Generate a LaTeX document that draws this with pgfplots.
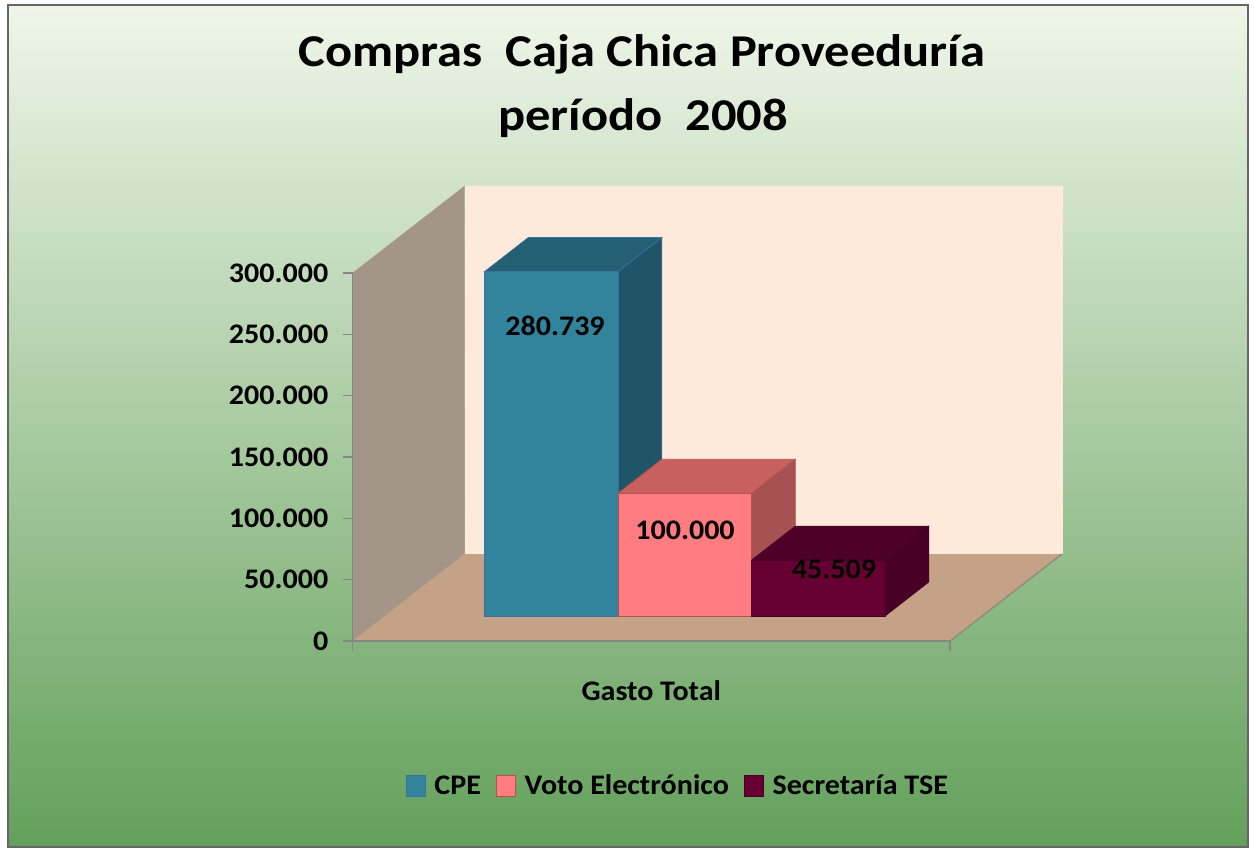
\documentclass[border=0pt]{standalone}
\usepackage{fontspec}
\setmainfont{Carlito}[FakeStretch=1.06]
\newfontfamily\titlefont{Carlito}[FakeStretch=1.11]
\usepackage{pgfplots}
\pgfplotsset{compat=1.18}
\definecolor{bgTop}{HTML}{EFF6E9}
\definecolor{bgMid}{HTML}{B3D199}
\definecolor{bgBot}{HTML}{63A05B}
\definecolor{leftwall}{HTML}{A39689}
\definecolor{backwall}{HTML}{FDEADB}
\definecolor{floorc}{HTML}{C4A286}
\definecolor{flooredge}{HTML}{8E8E80}
\definecolor{axisgray}{HTML}{868686}
\definecolor{cpeFront}{HTML}{31849B}
\definecolor{cpeTop}{HTML}{245F72}
\definecolor{cpeSide}{HTML}{1F5566}
\definecolor{cpeEdge}{HTML}{3E6FA3}
\definecolor{votoFront}{HTML}{FF7C80}
\definecolor{votoTop}{HTML}{C7605F}
\definecolor{votoSide}{HTML}{A65252}
\definecolor{votoEdge}{HTML}{B5514F}
\definecolor{secFront}{HTML}{660033}
\definecolor{secTop}{HTML}{4F0028}
\definecolor{secSide}{HTML}{490025}
\definecolor{secEdge}{HTML}{4A0026}
\newcommand{\lbl}{\bfseries\fontsize{17}{20}\selectfont}
\def\fdx{32.1}\def\fdy{20.4}\def\bdx{43.7}\def\bdy{27.7}
% #1 x0, #2 x1, #3 value, #4 front, #5 top, #6 side, #7 edge
\newcommand{\bartd}[7]{%
 \pgfmathsetmacro\XA{#1+\fdx}\pgfmathsetmacro\XB{#2+\fdx}%
 \pgfmathsetmacro\XC{#1+\fdx+\bdx}\pgfmathsetmacro\XD{#2+\fdx+\bdx}%
 \pgfmathsetmacro\YA{\fdy}\pgfmathsetmacro\YB{#3+\fdy}%
 \pgfmathsetmacro\YC{\fdy+\bdy}\pgfmathsetmacro\YD{#3+\fdy+\bdy}%
 \addplot[fill=#5, draw=#7, line width=0.4pt, forget plot] coordinates {(\XA,\YB) (\XB,\YB) (\XD,\YD) (\XC,\YD)} --cycle;
 \addplot[fill=#6, draw=#7, line width=0.4pt, forget plot] coordinates {(\XB,\YA) (\XD,\YC) (\XD,\YD) (\XB,\YB)} --cycle;
 \addplot[fill=#4, draw=#7, line width=0.5pt] coordinates {(\XA,\YA) (\XB,\YA) (\XB,\YB) (\XA,\YB)} --cycle;
}
\begin{document}
\begin{tikzpicture}
\fill[white] (0,0) rectangle (1254*0.6pt,-850*0.6pt);
\shade[top color=bgTop, middle color=bgMid, bottom color=bgBot] (8*0.6pt,-5*0.6pt) rectangle (1248*0.6pt,-847*0.6pt);
\draw[color=gray!80!black, line width=1.2pt] (8*0.6pt,-5*0.6pt) rectangle (1248*0.6pt,-847*0.6pt);
\node[font=\titlefont\bfseries\fontsize{27.3}{32}\selectfont, anchor=base] at (642*0.6pt,-66*0.6pt) {Compras\ \ Caja Chica Proveeduría};
\node[font=\titlefont\bfseries\fontsize{27.3}{32}\selectfont, anchor=base] at (643*0.6pt,-130*0.6pt) {período\ \ 2008};
\begin{axis}[
 at={(352.5*0.6pt,-641*0.6pt)}, anchor=origin,
 x=0.6pt, y=0.7362pt,
 xmin=0, xmax=597.5, ymin=0, ymax=300,
 clip=false, axis on top,
 axis lines=left, axis line style={-, color=axisgray, line width=0.9pt},
 tick align=outside, major tick length=6pt,
 tick style={color=axisgray, line width=0.9pt},
 xtick={0,597.5}, xticklabels={},
 ytick={0,50,100,150,200,250,300},
 yticklabels={0,50.000,100.000,150.000,200.000,250.000,300.000},
 yticklabel style={font=\lbl, anchor=east, xshift=-5pt},
 legend columns=-1,
 legend style={at={(axis cs:326,-118.2)}, anchor=center, draw=none, fill=none,
   font=\lbl, /tikz/every even column/.append style={column sep=7pt}},
 legend image code/.code={\draw[#1] (0pt,-6.3pt) rectangle (11.4pt,6.3pt); \path[draw=none,fill=none] (0pt,0pt) -- (15pt,0pt);},
]
\addplot[fill=leftwall, draw=none, forget plot] coordinates {(0,0) (0,300) (112,370.9) (112,70.9)} --cycle;
\addplot[fill=backwall, draw=none, forget plot] coordinates {(112,70.9) (112,370.9) (710.5,370.9) (710.5,70.9)} --cycle;
\addplot[fill=floorc, draw=none, forget plot] coordinates {(0,0) (597.5,0) (709.5,70.9) (112,70.9)} --cycle;
\addplot[draw=flooredge, line width=0.9pt, forget plot] coordinates {(597.5,0) (709.5,70.9)};
\bartd{100}{233.5}{280.739}{cpeFront}{cpeTop}{cpeSide}{cpeEdge}
\bartd{233.5}{367}{100.000}{votoFront}{votoTop}{votoSide}{votoEdge}
\bartd{367}{500.5}{45.509}{secFront}{secTop}{secSide}{secEdge}
\legend{CPE,Voto Electrónico,Secretaría TSE}
\node[font=\lbl, anchor=base] at (axis cs:202.5,248.6) {280.739};
\node[font=\lbl, anchor=base] at (axis cs:332.5,83.1) {100.000};
\node[font=\lbl, anchor=base] at (axis cs:481.5,51.3) {45.509};
\node[font=\lbl, anchor=base] at (axis cs:298.75,-48.7) {Gasto Total};
\end{axis}
\pgfresetboundingbox
\useasboundingbox (0,0) rectangle (1254*0.6pt,-850*0.6pt);
\end{tikzpicture}
\end{document}
